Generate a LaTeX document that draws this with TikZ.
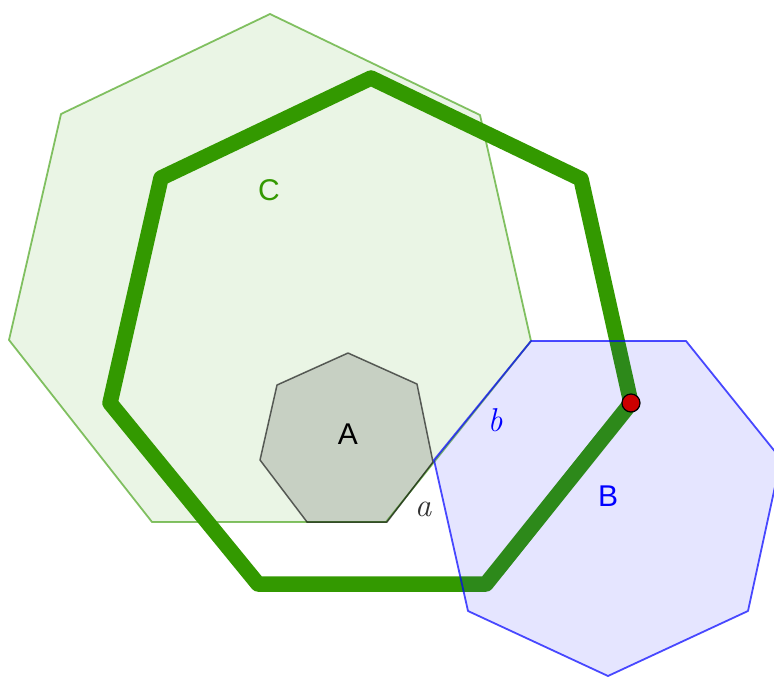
\documentclass[tikz,border=0pt]{standalone}
\usepackage{fontspec}
\setsansfont{Liberation Sans}

\definecolor{ggbgreen}{HTML}{339900}
\definecolor{ggbblue}{HTML}{0000FF}
\definecolor{ggbred}{HTML}{CC0000}

\tikzset{
  outerpoly/.style={fill=ggbgreen,fill opacity=0.1,draw=ggbgreen,draw opacity=0.6,line width=1.8pt,line join=round},
  smallpoly/.style={fill=black,fill opacity=0.15,draw=black,draw opacity=0.6,line width=1.5pt,line join=round},
  bluepoly/.style={fill=ggbblue,fill opacity=0.1,draw=ggbblue,draw opacity=0.7,line width=1.8pt,line join=round},
  thickpoly/.style={draw=ggbgreen,line width=15.5pt,line join=round},
  biglabel/.style={font=\sffamily\fontsize{30}{32}\selectfont,inner sep=0pt},
  sidelabel/.style={font=\rmfamily\itshape\fontsize{33}{35}\selectfont,inner sep=0pt}
}

\begin{document}
\begin{tikzpicture}[x=1pt,y=-1pt]
  \clip (0,0) rectangle (774,677);
  \useasboundingbox (0,0) rectangle (774,677);

  % thick heptagon c
  \foreach \n/\x/\y in {1/371/78,2/581/179,3/631/403,4/486/584,5/258/584,6/110/403,7/161/178}
    \coordinate (c\n) at (\x,\y);
  \draw[thickpoly] (c1)--(c2)--(c3)--(c4)--(c5)--(c6)--(c7)--cycle;

  % large heptagon
  \foreach \n/\x/\y in {1/270/14,2/480/115,3/531/341,4/386/522,5/152/522,6/9/340,7/61/114}
    \coordinate (p\n) at (\x,\y);
  \draw[outerpoly] (p1)--(p2)--(p3)--(p4)--(p5)--(p6)--(p7)--cycle;

  % small heptagon A
  \foreach \n/\x/\y in {1/348/353,2/417/384,3/433/462,4/387/522,5/307/522,6/260/460,7/277/385}
    \coordinate (q\n) at (\x,\y);
  \draw[smallpoly] (q1)--(q2)--(q3)--(q4)--(q5)--(q6)--(q7)--cycle;

  % heptagon B
  \foreach \n/\x/\y in {1/531/341,2/686/341,3/781/459,4/748/611,5/608/676,6/468/611,7/434/460}
    \coordinate (r\n) at (\x,\y);
  \draw[bluepoly] (r1)--(r2)--(r3)--(r4)--(r5)--(r6)--(r7)--cycle;

  \node[circle,fill=ggbred,draw=black,line width=1.2pt,minimum size=18pt,inner sep=0pt] (pt) at (c3) {};

  \node[biglabel,text=ggbgreen] (labC) at (269,190) {C};
  \node[biglabel,text=black] (labA) at (348,434) {A};
  \node[biglabel,text=ggbblue] (labB) at (608,496) {B};
  \node[sidelabel,text=ggbblue] (labb) at (495,420) {b};
  \node[sidelabel,text=black!80] (laba) at (423,509) {a};
\end{tikzpicture}
\end{document}
